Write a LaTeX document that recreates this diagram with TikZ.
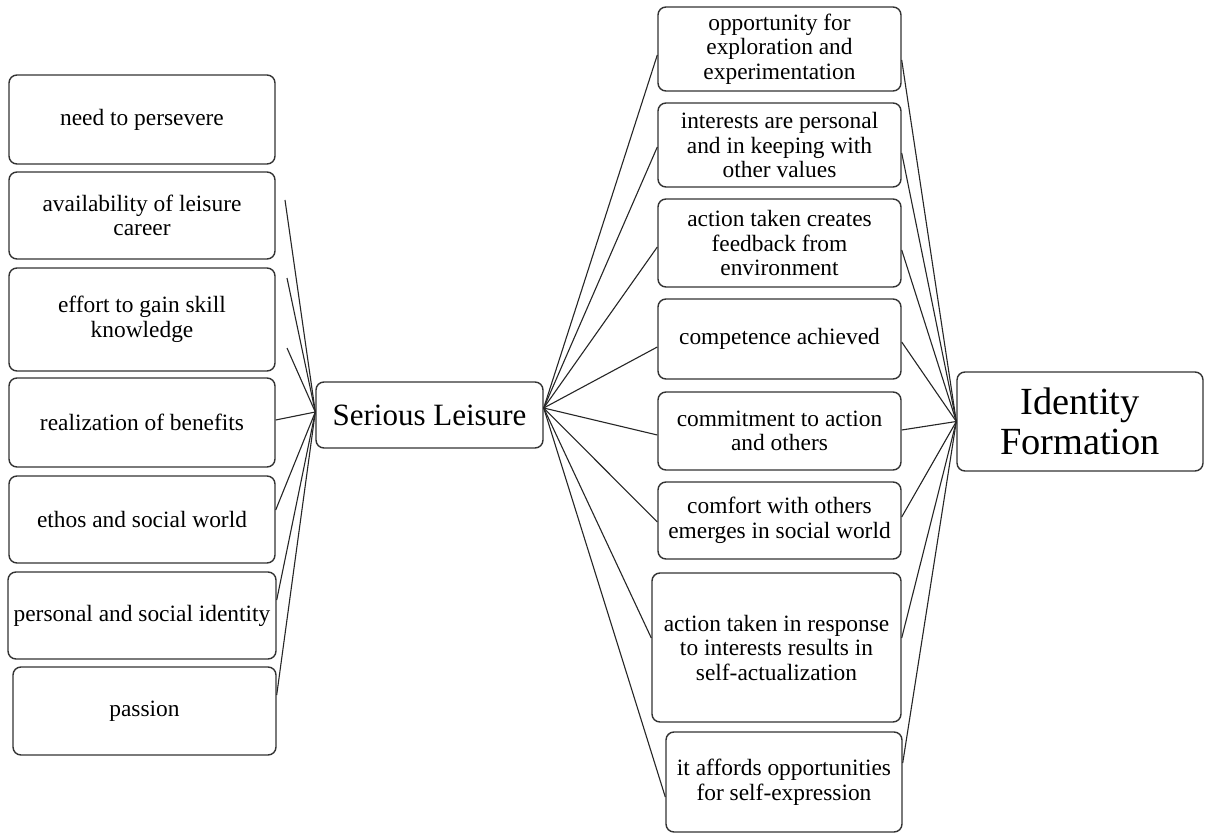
\documentclass[tikz,border=0pt]{standalone}
\usepackage{fontspec}
\setmainfont{Liberation Serif}
\begin{document}
\begin{tikzpicture}[x=1pt,y=-1pt,
  box/.style={draw=black!80, line width=1.4pt, rounded corners=8pt, align=center,
    inner sep=0pt, font=\fontsize{23.4}{24.5}\selectfont},
  link/.style={draw=black!85, line width=1.1pt}]
\useasboundingbox[fill=white] (0,0) rectangle (1207,834);

% left boxes
\node[box, minimum width=266pt, minimum height=89pt] (l1) at (142,119.5) {need to persevere};
\node[box, minimum width=266pt, minimum height=87pt] (l2) at (142,215.5) {availability of leisure\\career};
\node[box, minimum width=266pt, minimum height=103pt] (l3) at (142,319.5) {effort to gain skill\\knowledge};
\node[box, minimum width=266pt, minimum height=89pt] (l4) at (142,422.5) {realization of benefits};
\node[box, minimum width=266pt, minimum height=87pt] (l5) at (142,519.5) {ethos and social world};
\node[box, minimum width=268pt, minimum height=87pt] (l6) at (142,615.5) {personal and social identity};
\node[box, minimum width=263pt, minimum height=88pt] (l7) at (144.5,711) {passion};

% centre
\node[box, minimum width=227pt, minimum height=66pt, font=\fontsize{31}{33}\selectfont] (sl) at (429.5,415) {Serious Leisure};

% right boxes
\node[box, minimum width=243pt, minimum height=84pt] (r1) at (779.5,49) {opportunity for\\exploration and\\experimentation};
\node[box, minimum width=243pt, minimum height=84pt] (r2) at (779.5,145) {interests are personal\\and in keeping with\\other values};
\node[box, minimum width=243pt, minimum height=88pt] (r3) at (779.5,243) {action taken creates\\feedback from\\environment};
\node[box, minimum width=243pt, minimum height=80pt] (r4) at (779.5,339) {competence achieved};
\node[box, minimum width=243pt, minimum height=78pt] (r5) at (779.5,431) {commitment to action\\and others};
\node[box, minimum width=243pt, minimum height=77pt] (r6) at (779.5,520.5) {comfort with others\\emerges in social world};
\node[box, minimum width=249pt, minimum height=149pt] (r7) at (776.5,647.5) {action taken in response\\to interests results in\\self-actualization};
\node[box, minimum width=236pt, minimum height=100pt] (r8) at (784,782) {it affords opportunities\\for self-expression};

% identity
\node[box, minimum width=246pt, minimum height=99pt, font=\fontsize{38.4}{40}\selectfont] (id) at (1080,421.5) {Identity\\Formation};

% free ends on the left
\coordinate (f1) at (285,200);
\coordinate (f2) at (287,278);
\coordinate (f3) at (287,348);

% left connectors
\draw[link] (f1) -- ([yshift=3pt]sl.west);
\draw[link] (f2) -- ([yshift=3pt]sl.west);
\draw[link] (f3) -- ([yshift=3pt]sl.west);
\draw[link] ([yshift=2.5pt]l4.east) -- ([yshift=3pt]sl.west);
\draw[link] ([yshift=9.5pt]l5.east) -- ([yshift=3pt]sl.west);
\draw[link] ([yshift=15.5pt]l6.east) -- ([yshift=3pt]sl.west);
\draw[link] ([yshift=16pt]l7.east) -- ([yshift=3pt]sl.west);

% centre to right boxes
\draw[link] ([yshift=7pt]sl.east) -- ([yshift=-6pt]r1.west);
\draw[link] ([yshift=7pt]sl.east) -- ([yshift=-2pt]r2.west);
\draw[link] ([yshift=7pt]sl.east) -- ([yshift=-4pt]r3.west);
\draw[link] ([yshift=7pt]sl.east) -- ([yshift=-8pt]r4.west);
\draw[link] ([yshift=7pt]sl.east) -- ([yshift=-4pt]r5.west);
\draw[link] ([yshift=7pt]sl.east) -- ([yshift=-1.5pt]r6.west);
\draw[link] ([yshift=7pt]sl.east) -- ([yshift=9.5pt]r7.west);
\draw[link] ([yshift=7pt]sl.east) -- ([yshift=-15pt]r8.west);

% right boxes to identity
\draw[link] ([yshift=-11pt]r1.east) -- (id.west);
\draw[link] ([yshift=-8pt]r2.east) -- (id.west);
\draw[link] ([yshift=-7pt]r3.east) -- (id.west);
\draw[link] ([yshift=-3pt]r4.east) -- (id.west);
\draw[link] ([yshift=1pt]r5.east) -- (id.west);
\draw[link] ([yshift=3.5pt]r6.east) -- (id.west);
\draw[link] ([yshift=9.5pt]r7.east) -- (id.west);
\draw[link] ([yshift=19pt]r8.east) -- (id.west);
\end{tikzpicture}
\end{document}
